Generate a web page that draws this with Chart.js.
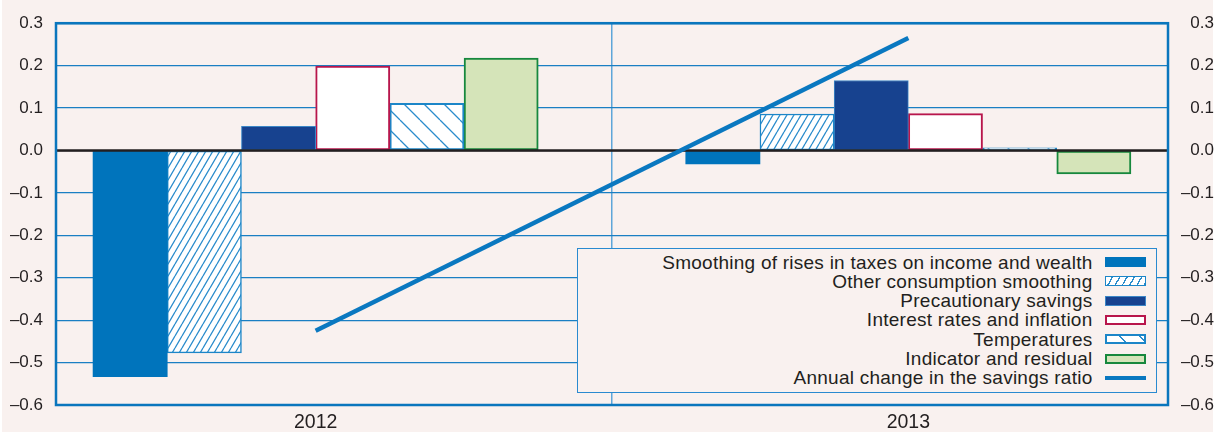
<!DOCTYPE html>
<html lang="en">
<head>
<meta charset="UTF-8">
<title>Savings ratio contributions</title>
<script src="https://cdn.jsdelivr.net/npm/chart.js"></script>
<style>
    html, body { margin: 0; padding: 0; background: #fff; }
    #wrap { position: relative; width: 1224px; height: 432px; overflow: hidden; }
    #bg { position: absolute; left: 2px; top: 0; width: 1211px; height: 432px; background: #f9f1ef; }
    #chart { position: absolute; left: 0; top: 0; }
    #legend {
        position: absolute; left: 577px; top: 248px; width: 580px; height: 145px;
        box-sizing: border-box; border: 1.5px solid #2a8ad0; background: #f9f1ef;
        font-family: "Liberation Sans", Arial, sans-serif; font-size: 19px; color: #231f20;
        padding-top: 3.5px; padding-right: 10.5px;
    }
    .row { display: flex; justify-content: flex-end; align-items: center; height: 19.3px; line-height: 19.3px; letter-spacing: 0.25px; white-space: nowrap; }
    .sw { width: 41px; height: 10px; margin-left: 12px; box-sizing: border-box; flex: none; }
</style>
</head>
<body>
<div id="wrap">
    <div id="bg"></div>
    <canvas id="chart" width="1224" height="432"></canvas>
    <div id="legend"></div>
</div>
<script>
    // data
    const years = ['2012', '2013'];
    const smoothingTaxes = [-0.533, -0.032];
    const otherSmoothing = [-0.477, 0.086];
    const precautionary = [0.057, 0.165];
    const interestInflation = [0.199, 0.087];
    const temperatures = [0.111, 0.006];
    const indicatorResidual = [0.218, -0.055];
    const savingsRatioChange = [-0.425, 0.265];
    const yMin = -0.6, yMax = 0.3, yStep = 0.1;

    // where each year sits on the 0..2 horizontal scale (the chart is not centred per year)
    const yearPos = [0.467, 1.533];
    const xTickLabels = [years[0], '', years[1]];

    const ctx = document.getElementById('chart').getContext('2d');

    function hatch(w, h, dir, color, lw) {
        const c = document.createElement('canvas');
        c.width = w; c.height = h;
        const g = c.getContext('2d');
        g.fillStyle = '#fff';
        g.fillRect(0, 0, w, h);
        g.strokeStyle = color;
        g.lineWidth = lw;
        g.beginPath();
        for (let k = -1; k <= 1; k++) {
            if (dir === '/') { g.moveTo(k * w, h); g.lineTo(k * w + w, 0); }
            else { g.moveTo(k * w, 0); g.lineTo(k * w + w, h); }
        }
        g.stroke();
        return ctx.createPattern(c, 'repeat');
    }

    const otherPattern = hatch(7, 12, '/', '#2a8ccc', 1.3);
    const tempPattern = hatch(20, 20, '\\', '#2a8ccc', 1.3);

    function pts(values) {
        return values.map((v, i) => ({ x: yearPos[i], y: v }));
    }

    const bar = { type: 'bar', barThickness: 74.2, borderSkipped: false };

    const datasets = [
        { type: 'line', label: 'Annual change in the savings ratio', data: pts(savingsRatioChange),
          borderColor: '#0a78c0', borderWidth: 4.5, pointRadius: 0, borderCapStyle: 'butt', order: -1 },
        { ...bar, label: 'Smoothing of rises in taxes on income and wealth', data: pts(smoothingTaxes),
          backgroundColor: '#0074bc', borderColor: '#0074bc', borderWidth: 0 },
        { ...bar, label: 'Other consumption smoothing', data: pts(otherSmoothing),
          backgroundColor: otherPattern, borderColor: '#1c86c8', borderWidth: 1.5 },
        { ...bar, label: 'Precautionary savings', data: pts(precautionary),
          backgroundColor: '#17428f', borderColor: '#3b86c6', borderWidth: 1 },
        { ...bar, label: 'Interest rates and inflation', data: pts(interestInflation),
          backgroundColor: '#ffffff', borderColor: '#b8164c', borderWidth: 2 },
        { ...bar, label: 'Temperatures', data: pts(temperatures),
          backgroundColor: tempPattern, borderColor: '#1c86c8', borderWidth: 2 },
        { ...bar, label: 'Indicator and residual', data: pts(indicatorResidual),
          backgroundColor: '#d5e4b9', borderColor: '#17883d', borderWidth: 2 }
    ];

    function fmt(v) {
        const r = Math.round(v * 10) / 10;
        return (r < 0 ? '\u2013' : '') + Math.abs(r).toFixed(1);
    }

    // zero line sits over the bars but under the line; frame on top
    const framePlugin = {
        id: 'frame',
        beforeDatasetDraw(chart, args) {
            if (args.meta.type !== 'line') return;
            const { ctx, chartArea: a, scales } = chart;
            const y0 = scales.y.getPixelForValue(0);
            ctx.save();
            ctx.strokeStyle = '#231f20';
            ctx.lineWidth = 2.5;
            ctx.beginPath();
            ctx.moveTo(a.left, y0);
            ctx.lineTo(a.right, y0);
            ctx.stroke();
            ctx.restore();
        },
        afterDatasetsDraw(chart) {
            const { ctx, chartArea: a } = chart;
            ctx.save();
            ctx.strokeStyle = '#0a76bd';
            ctx.lineWidth = 2.5;
            ctx.strokeRect(a.left, a.top, a.right - a.left, a.bottom - a.top);
            ctx.restore();
        }
    };

    const tickFont = { family: '"Liberation Sans", Arial, sans-serif', size: 17 };
    const yScale = (pos) => ({
        position: pos,
        min: yMin, max: yMax,
        border: { display: false },
        afterFit: (s) => { s.width = 46; },
        grid: {
            display: pos === 'left',
            drawTicks: false,
            color: (c) => Math.abs(c.tick.value) < 1e-9 ? '#231f20' : '#1a7fc3',
            lineWidth: 1.2
        },
        ticks: {
            stepSize: yStep, padding: 13, color: '#231f20', font: tickFont,
            crossAlign: pos === 'right' ? 'far' : 'near',
            callback: fmt
        }
    });

    new Chart(ctx, {
        type: 'bar',
        data: { datasets },
        options: {
            responsive: false,
            animation: false,
            events: [],
            layout: { padding: { left: 10, right: 10, top: 18, bottom: 0 } },
            plugins: { legend: { display: false }, tooltip: { enabled: false } },
            scales: {
                x: {
                    type: 'linear', min: 0, max: 2, offset: false,
                    border: { display: false },
                    afterFit: (s) => { s.height = 27; },
                    afterBuildTicks: (s) => { s.ticks = [yearPos[0], 1, yearPos[1]].map(v => ({ value: v })); },
                    grid: {
                        offset: false,
                        drawTicks: false,
                        color: (c) => c.tick && c.tick.value === 1 ? '#5fa6d9' : 'rgba(0,0,0,0)',
                        lineWidth: 1.5
                    },
                    ticks: {
                        autoSkip: false, maxRotation: 0, padding: 8, color: '#231f20',
                        font: { family: tickFont.family, size: 19.5, lineHeight: 1 },
                        callback: (v, i) => xTickLabels[i]
                    }
                },
                y: yScale('left'),
                y1: yScale('right')
            }
        },
        plugins: [framePlugin]
    });

    // legend, drawn as html over the plot
    const legendItems = [
        [datasets[1].label, 'background:#0074bc;'],
        [datasets[2].label, 'border:1.5px solid #1c86c8;background:repeating-linear-gradient(120deg,#fff 0 5px,#2a8ccc 5px 6.3px);'],
        [datasets[3].label, 'border:1px solid #3b86c6;background:#17428f;'],
        [datasets[4].label, 'border:2px solid #b8164c;background:#fff;'],
        [datasets[5].label, 'border:2px solid #1c86c8;background:repeating-linear-gradient(45deg,#fff 0 12.7px,#2a8ccc 12.7px 14.1px);'],
        [datasets[6].label, 'border:2px solid #17883d;background:#d5e4b9;'],
        [datasets[0].label, 'height:4.5px;background:#0a78c0;']
    ];
    const legend = document.getElementById('legend');
    legendItems.forEach(([text, style]) => {
        const row = document.createElement('div');
        row.className = 'row';
        const span = document.createElement('span');
        span.textContent = text;
        const sw = document.createElement('div');
        sw.className = 'sw';
        sw.style.cssText = style;
        row.appendChild(span);
        row.appendChild(sw);
        legend.appendChild(row);
    });
</script>
</body>
</html>
